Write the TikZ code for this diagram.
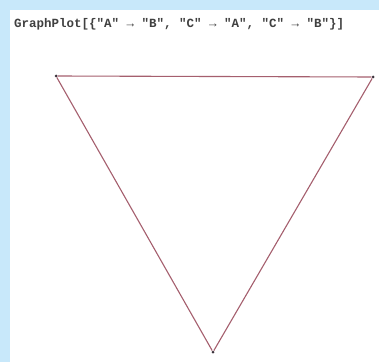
\documentclass[tikz,border=0pt]{standalone}
\usepackage{fontspec}
\newfontfamily\codefont{Liberation Mono}
\definecolor{bgblue}{RGB}{200,232,250}
\definecolor{edgecol}{RGB}{165,95,110}
\definecolor{vertcol}{RGB}{60,50,60}
\begin{document}
\begin{tikzpicture}[x=1pt,y=1pt,
  vtx/.style={circle,fill=vertcol,inner sep=0pt,minimum size=3pt},
  edge/.style={draw=edgecol,line width=1.1pt}]
\useasboundingbox (0,0) rectangle (379,362);
\fill[bgblue] (0,0) rectangle (379,362);
\fill[white] (10,0) rectangle (379,352);
\node[anchor=base west,inner sep=0pt,font=\codefont\bfseries\fontsize{12.5}{14}\selectfont,text=black!75] (code) at (14,334) {GraphPlot[\{"A" → "B", "C" → "A", "C" → "B"\}]};
\node[vtx] (A) at (56,286) {};
\node[vtx] (B) at (373,285) {};
\node[vtx] (C) at (213,10) {};
\draw[edge] (A) -- (B);
\draw[edge] (C) -- (A);
\draw[edge] (C) -- (B);
\end{tikzpicture}
\end{document}
